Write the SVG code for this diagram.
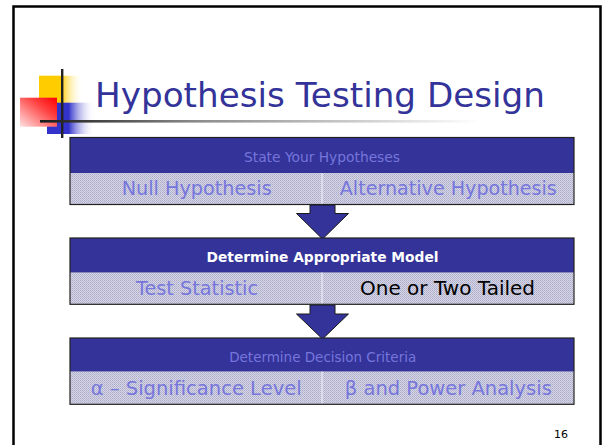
<svg xmlns="http://www.w3.org/2000/svg" width="602" height="445" viewBox="0 0 602 445">
<defs>
<style>
.hdr{fill:#333399;}
.cell{fill:url(#dots);}
.sep{fill:#dcdcea;}
.box{fill:none;stroke:#222;stroke-width:1.2;}
.lt{font-family:"DejaVu Sans",Verdana,sans-serif;fill:#7676dc;text-anchor:middle;}
.big{font-size:20px;}
.small{font-size:14px;}
.arrow{fill:#333399;stroke:#1a1a1a;stroke-width:1;}
</style>
<pattern id="dots" width="2" height="2" patternUnits="userSpaceOnUse">
<rect width="2" height="2" fill="#d6d6e6"/>
<rect width="1" height="1" fill="#acacc8"/>
<rect x="1" y="1" width="1" height="1" fill="#b8b8d2"/>
</pattern>
<linearGradient id="gy" x1="0" y1="0" x2="1" y2="0">
<stop offset="0" stop-color="#ffcc00"/><stop offset="0.5" stop-color="#ffcc00"/><stop offset="1" stop-color="#ffffff" stop-opacity="0"/>
</linearGradient>
<linearGradient id="gb" x1="0" y1="0" x2="1" y2="0">
<stop offset="0" stop-color="#3333cc"/><stop offset="0.45" stop-color="#3333cc"/><stop offset="1" stop-color="#ffffff" stop-opacity="0"/>
</linearGradient>
<linearGradient id="gr" x1="1" y1="0" x2="0" y2="1">
<stop offset="0" stop-color="#ff0000"/><stop offset="0.35" stop-color="#ff4040"/><stop offset="1" stop-color="#ffe0e0"/>
</linearGradient>
<linearGradient id="gl" x1="0" y1="0" x2="1" y2="0">
<stop offset="0" stop-color="#1a1a1a"/><stop offset="0.35" stop-color="#8a8a8a"/><stop offset="1" stop-color="#ffffff"/>
</linearGradient>
</defs>
<rect width="602" height="445" fill="#ffffff"/>
<g id="frame">
<path d="M13.5 445 V6.5 H600.5 V445" fill="none" stroke="#000" stroke-width="2.5"/>
</g>
<g id="logo">
<rect x="39" y="75.7" width="44" height="28" fill="url(#gy)"/>
<rect x="47" y="102.7" width="48" height="31.3" fill="url(#gb)"/>
<rect x="20" y="97.7" width="37" height="29" fill="url(#gr)"/>
<rect x="61" y="69" width="2.4" height="69" fill="#222"/>
<rect x="40" y="120" width="440" height="2.6" fill="url(#gl)"/>
</g>
<g id="title">
<text x="95" y="107" font-family="DejaVu Sans,Verdana,sans-serif" font-size="33" fill="#333399" textLength="450" lengthAdjust="spacingAndGlyphs">Hypothesis Testing Design</text>
</g>
<g id="connectors">
<path class="arrow" d="M310 205 H335 V213.5 H348.5 L322.5 239 L296.5 213.5 H310 Z"/>
<path class="arrow" d="M310 305 H335 V314 H348.5 L322.5 339 L296.5 314 H310 Z"/>
</g>
<g id="box1">
<rect class="hdr" x="70" y="137.5" width="504" height="35.5"/>
<rect class="cell" x="70" y="173" width="504" height="31.5"/>
<rect class="sep" x="321" y="173" width="2" height="31.5"/>
<rect class="box" x="70" y="137.5" width="504" height="67"/>
<text class="lt small" x="322" y="162" textLength="156" lengthAdjust="spacingAndGlyphs">State Your Hypotheses</text>
<text class="lt big" x="196.7" y="195" textLength="150" lengthAdjust="spacingAndGlyphs">Null Hypothesis</text>
<text class="lt big" x="448.3" y="195" textLength="217" lengthAdjust="spacingAndGlyphs">Alternative Hypothesis</text>
</g>
<g id="box2">
<rect class="hdr" x="70" y="238" width="504" height="34.7"/>
<rect class="cell" x="70" y="272.7" width="504" height="31.6"/>
<rect class="sep" x="321" y="272.7" width="2" height="31.6"/>
<rect class="box" x="70" y="238" width="504" height="66.3"/>
<text x="322.5" y="261.5" font-family="DejaVu Sans,Verdana,sans-serif" font-size="13.5" font-weight="bold" fill="#ffffff" text-anchor="middle" textLength="232" lengthAdjust="spacingAndGlyphs">Determine Appropriate Model</text>
<text class="lt big" x="197" y="295" textLength="122" lengthAdjust="spacingAndGlyphs">Test Statistic</text>
<text x="447.5" y="295" font-family="DejaVu Sans,Verdana,sans-serif" font-size="20" fill="#000000" text-anchor="middle" textLength="175" lengthAdjust="spacingAndGlyphs">One or Two Tailed</text>
</g>
<g id="box3">
<rect class="hdr" x="70" y="338" width="504" height="33.7"/>
<rect class="cell" x="70" y="371.7" width="504" height="32.6"/>
<rect class="sep" x="321" y="371.7" width="2" height="32.6"/>
<rect class="box" x="70" y="338" width="504" height="66.3"/>
<text class="lt small" x="322.7" y="362" textLength="187" lengthAdjust="spacingAndGlyphs">Determine Decision Criteria</text>
<text class="lt big" x="196.2" y="395" textLength="211" lengthAdjust="spacingAndGlyphs">α – Significance Level</text>
<text class="lt big" x="448.3" y="395" textLength="207" lengthAdjust="spacingAndGlyphs">β and Power Analysis</text>
</g>
<g id="page">
<text x="568" y="437.5" font-family="DejaVu Sans,Verdana,sans-serif" font-size="11" fill="#000" text-anchor="end">16</text>
</g>
</svg>
